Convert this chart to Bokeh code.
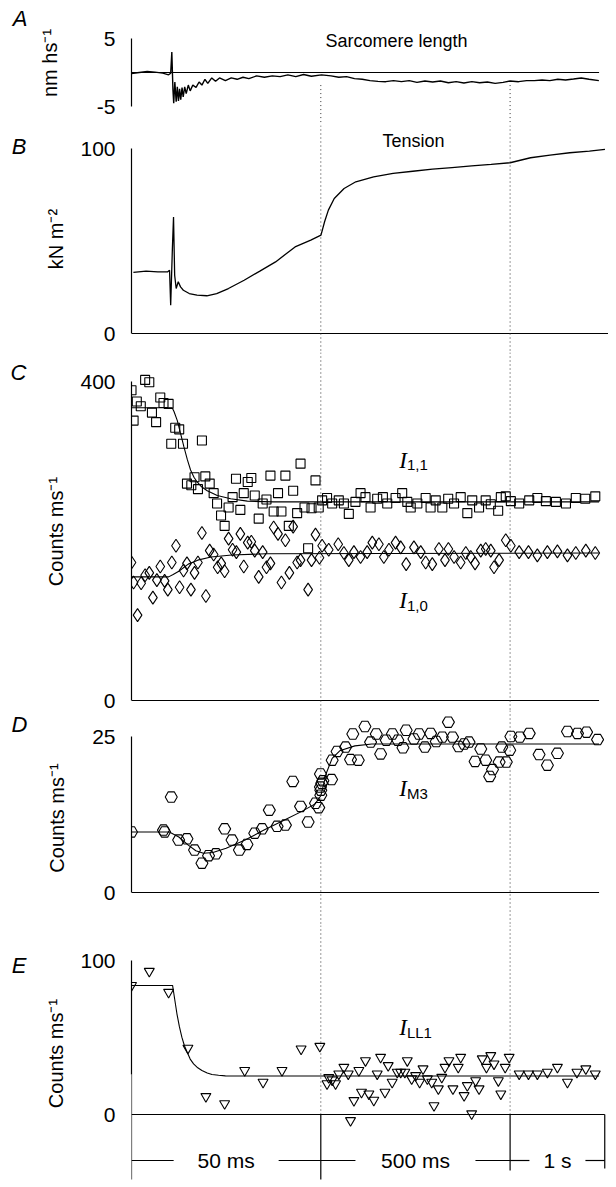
from bokeh.plotting import figure
from bokeh.layouts import column
from bokeh.models import Range1d, FixedTicker, Span, Label, LinearAxis
from bokeh.embed import file_html
from bokeh.resources import INLINE
from bokeh.core.properties import value

# ---------------- data (x = position on the broken time axis; 1 unit = one scale segment) -------------
seg_edges = [0.0, 1.0, 2.0, 2.5]          # 0, 50 ms, 550 ms, 1550 ms
seg_labels = ["50 ms", "500 ms", "1 s"]

slen_t = [0.0, 0.041, 0.083, 0.124, 0.165, 0.196, 0.207, 0.213, 0.219, 0.223, 0.229, 0.236, 0.242, 0.248,
          0.254, 0.26, 0.267, 0.273, 0.281, 0.289, 0.3, 0.31, 0.324, 0.341, 0.357, 0.372, 0.388, 0.403,
          0.424, 0.444, 0.465, 0.496, 0.527, 0.558, 0.589, 0.62, 0.661, 0.702, 0.744, 0.785, 0.826, 0.868,
          0.909, 0.95, 1.004, 1.054, 1.095, 1.136, 1.178, 1.219, 1.26, 1.302, 1.343, 1.384, 1.426, 1.467,
          1.508, 1.55, 1.591, 1.632, 1.674, 1.715, 1.756, 1.798, 1.839, 1.88, 1.921, 1.963, 2.0, 2.045,
          2.087, 2.128, 2.169, 2.21, 2.252, 2.293, 2.335, 2.376, 2.417, 2.469]
slen_v = [-0.15, 0.0, 0.15, 0.05, -0.1, -0.34, -0.1, 3.0, -2.6, -4.5, -1.4, -4.3, -2.1, -4.2,
          -2.4, -4.0, -2.2, -3.6, -2.1, -3.1, -1.85, -2.7, -1.85, -2.2, -1.4, -1.85, -1.0, -1.6,
          -0.8, -1.3, -0.8, -1.2, -0.8, -1.0, -0.7, -0.9, -0.5, -0.7, -0.5, -0.6, -0.35, -0.6,
          -0.3, -0.55, -0.35, -0.5, -0.7, -0.6, -0.9, -1.0, -1.2, -1.3, -1.35, -1.2, -1.35, -1.2,
          -1.45, -1.25, -1.4, -1.25, -1.5, -1.35, -1.55, -1.35, -1.5, -1.4, -1.6, -1.45, -1.25, -1.35,
          -1.2, -1.2, -1.1, -1.2, -1.0, -1.1, -0.95, -0.8, -1.0, -1.2]

tens_t = [0.01, 0.077, 0.139, 0.19, 0.201, 0.207, 0.216, 0.222, 0.228, 0.236, 0.247, 0.259, 0.274,
          0.305, 0.346, 0.398, 0.45, 0.512, 0.595, 0.678, 0.761, 0.864, 0.947, 1.001, 1.02, 1.04,
          1.071, 1.123, 1.185, 1.279, 1.382, 1.486, 1.59, 1.693, 1.797, 1.9, 2.0, 2.108, 2.211,
          2.315, 2.419, 2.501]
tens_v = [33.0, 33.7, 33.3, 33.3, 34.2, 15.3, 46.0, 63.0, 31.5, 24.3, 28.0, 25.2, 23.4,
          21.6, 20.7, 20.4, 21.6, 24.3, 28.8, 33.7, 38.7, 46.8, 50.5, 53.2, 60.4, 66.7,
          73.0, 78.4, 82.0, 84.7, 86.5, 87.7, 88.8, 89.7, 90.6, 91.4, 92.3, 95.0, 96.4,
          97.7, 98.6, 99.5]

i11_t = [0.0, 0.072, 0.094, 0.028, 0.049, 0.011, 0.108, 0.13, 0.152, 0.169, 0.196, 0.231, 0.252, 0.21,
         0.272, 0.372, 0.293, 0.316, 0.333, 0.351, 0.39, 0.413, 0.434, 0.452, 0.473, 0.492, 0.513,
         0.534, 0.552, 0.575, 0.593, 0.614, 0.633, 0.651, 0.672, 0.693, 0.713, 0.734, 0.751, 0.774,
         0.792, 0.813, 0.831, 0.854, 0.875, 0.893, 0.914, 0.933, 0.951, 0.972, 0.989,
         1.007, 1.033, 1.06, 1.095, 1.122, 1.148, 1.183, 1.21, 1.236, 1.263, 1.298, 1.328, 1.351,
         1.395, 1.43, 1.457, 1.475, 1.51, 1.554, 1.58, 1.607, 1.642, 1.673, 1.704, 1.739, 1.774,
         1.8, 1.836, 1.871, 1.898, 1.937, 1.951, 1.977, 2.004, 2.048, 2.101, 2.144, 2.189, 2.242,
         2.295, 2.347, 2.397, 2.45]
i11_v = [389, 402, 399, 375, 369, 351, 361, 349, 380, 373, 372, 342, 340, 322,
         322, 326, 272, 270, 280, 265, 281, 272, 260, 247, 232, 219, 242,
         255, 278, 239, 260, 274, 279, 257, 228, 247, 252, 282, 237, 260,
         237, 282, 219, 263, 235, 297, 242, 191, 241, 276, 242,
         251, 254, 247, 251, 247, 234, 249, 260, 255, 242, 253, 255, 247,
         254, 260, 249, 242, 247, 254, 242, 251, 242, 253, 247, 255, 235,
         251, 242, 251, 246, 238, 255, 256, 250, 247, 251, 254, 250, 249,
         247, 254, 253, 256]

i10_t = [0.0, 0.011, 0.032, 0.051, 0.072, 0.094, 0.113, 0.134, 0.152, 0.175, 0.192, 0.213, 0.235,
         0.254, 0.275, 0.293, 0.314, 0.333, 0.351, 0.372, 0.393, 0.413, 0.434, 0.455, 0.474, 0.492,
         0.513, 0.534, 0.554, 0.575, 0.593, 0.614, 0.633, 0.651, 0.672, 0.693, 0.713, 0.734, 0.751,
         0.774, 0.792, 0.813, 0.834, 0.854, 0.875, 0.893, 0.933, 0.951, 0.972, 0.993,
         1.007, 1.042, 1.092, 1.122, 1.148, 1.175, 1.21, 1.245, 1.272, 1.307, 1.333, 1.36, 1.395,
         1.422, 1.451, 1.492, 1.528, 1.554, 1.589, 1.624, 1.656, 1.674, 1.704, 1.739, 1.766,
         1.792, 1.815, 1.845, 1.871, 1.898, 1.915, 1.942, 1.977, 2.004, 2.048, 2.097, 2.144,
         2.197, 2.25, 2.303, 2.347, 2.4, 2.45]
i10_v = [173, 148, 107, 147, 157, 160, 129, 151, 168, 150, 139, 173, 194,
         142, 163, 172, 139, 160, 173, 210, 131, 188, 183, 167, 172, 162,
         203, 189, 186, 209, 168, 198, 199, 188, 155, 186, 167, 172, 217,
         209, 148, 201, 160, 218, 173, 176, 139, 176, 208, 179,
         194, 189, 196, 185, 176, 186, 180, 186, 198, 196, 180, 189, 198,
         192, 171, 192, 186, 173, 171, 190, 176, 190, 180, 173, 185,
         180, 172, 188, 190, 188, 167, 176, 201, 194, 186, 186, 182,
         186, 187, 182, 185, 188, 185]

i11_fit_t = [0.0, 0.215, 0.225, 0.242, 0.26, 0.277, 0.295, 0.312, 0.33, 0.347, 0.37, 0.4, 0.453,
             0.524, 0.612, 0.75, 2.47]
i11_fit_v = [367, 367, 362, 351, 334, 318, 302, 289, 280, 274, 268, 263, 257, 253, 250, 249, 249]
i10_fit_t = [0.0, 0.196, 0.22, 0.25, 0.3, 0.35, 0.42, 0.53, 0.71, 2.47]
i10_fit_v = [155, 155, 158, 162, 171, 176, 180, 182.5, 184, 185]

m3_t = [0.0, 0.169, 0.175, 0.21, 0.249, 0.293, 0.333, 0.372, 0.407, 0.446, 0.492, 0.531, 0.57, 0.61,
        0.651, 0.69, 0.728, 0.769, 0.813, 0.852, 0.893, 0.933, 0.972, 0.989, 0.998, 0.998, 1.0,
        1.0, 1.005, 1.011, 1.057,
        1.06, 1.086, 1.131, 1.157, 1.169, 1.198, 1.233, 1.263, 1.293, 1.316, 1.346, 1.378, 1.407,
        1.434, 1.451, 1.492, 1.519, 1.55, 1.58, 1.61, 1.642, 1.674, 1.696, 1.728, 1.757, 1.783,
        1.815, 1.845, 1.871, 1.892, 1.907, 1.942, 1.956, 1.98, 1.998, 2.004, 2.051, 2.101, 2.153,
        2.197, 2.25, 2.303, 2.356, 2.404, 2.462]
m3_v = [9.7, 10.0, 9.7, 15.3, 8.4, 8.6, 6.8, 4.7, 5.9, 6.2, 10.2, 8.4, 6.8, 7.7,
        9.5, 10.2, 13.2, 10.6, 10.8, 17.8, 13.8, 11.3, 14.3, 13.6, 19.0, 16.9, 15.6,
        16.4, 17.5, 17.9, 18.1,
        21.2, 22.6, 23.3, 21.3, 25.4, 21.2, 26.6, 24.1, 25.4, 22.2, 24.4, 25.4, 24.4,
        23.2, 26.0, 24.6, 25.4, 23.3, 25.5, 24.2, 24.9, 27.3, 24.9, 23.4, 23.8, 24.1,
        21.0, 23.0, 21.2, 18.6, 19.7, 20.9, 23.3, 20.9, 22.8, 25.0, 24.9, 25.5, 22.1,
        20.4, 22.3, 25.8, 25.5, 25.7, 24.5]
m3_fit_t = [0.0, 0.2, 0.25, 0.3, 0.34, 0.38, 0.43, 0.5, 0.6, 0.7, 0.8, 0.9, 0.97, 1.0, 1.03,
            1.06, 1.1, 1.18, 1.27, 2.47]
m3_fit_v = [9.7, 9.7, 8.9, 7.6, 6.7, 6.3, 6.4, 7.1, 8.4, 10.0, 11.5, 13.0, 14.2, 15.5, 19.2,
            21.5, 22.7, 23.5, 23.8, 23.8]

ll1_t = [0.0, 0.094, 0.196, 0.298, 0.393, 0.492, 0.598, 0.695, 0.795, 0.896, 0.995,
         1.033, 1.042, 1.06, 1.078, 1.095, 1.122, 1.145, 1.157, 1.175, 1.201, 1.215, 1.236, 1.254,
         1.28, 1.298, 1.316, 1.339, 1.356, 1.377, 1.404, 1.422, 1.444, 1.457, 1.48, 1.501, 1.522,
         1.54, 1.563, 1.586, 1.598, 1.621, 1.639, 1.656, 1.677, 1.698, 1.726, 1.739, 1.757, 1.774,
         1.797, 1.818, 1.836, 1.853, 1.875, 1.898, 1.915, 1.938, 1.951, 1.974, 1.995, 2.048,
         2.097, 2.144, 2.197, 2.25, 2.303, 2.353, 2.4, 2.45]
ll1_v = [83.8, 93.0, 79.4, 43.1, 11.7, 7.1, 28.6, 21.0, 28.6, 42.6, 44.3,
         20.0, 24.0, 22.5, 20.0, 26.4, 30.7, 26.4, -3.9, 9.1, 28.6, 14.5, 35.0, 13.4,
         9.3, 26.4, 37.2, 14.5, 31.8, 21.0, 27.5, 27.5, 27.5, 35.0, 23.2, 25.3, 21.0,
         29.7, 23.2, 21.0, 5.8, 16.7, 24.2, 30.7, 35.0, 16.7, 30.7, 37.2, 12.3, 18.8,
         0.5, 22.0, 16.7, 36.2, 30.7, 38.3, 32.9, 22.0, 13.4, 30.7, 37.2, 26.4,
         26.4, 26.4, 27.5, 30.7, 21.0, 27.5, 29.7, 26.4]
ll1_fit_t = [0.0, 0.217, 0.228, 0.24, 0.253, 0.266, 0.28, 0.293, 0.31, 0.328, 0.35, 0.372, 0.4,
             0.425, 0.46, 0.496, 0.55, 2.47]
ll1_fit_v = [83.8, 83.8, 75.0, 65.4, 57.0, 50.2, 44.5, 40.7, 36.0, 32.9, 30.3, 28.6, 27.0,
             26.0, 25.5, 25.1, 25.0, 25.0]

# ---------------- styling / layout (page pixels) -------------
FONT = "Liberation Sans"
SERIF = "Liberation Serif"
LEFT = 131
W = 608
PX_PER_U = 189.3
X_END = (W - LEFT) / PX_PER_U
DOT = dict(line_color="#333333", line_width=1, line_dash="1 3")


def panel(top, bottom, hi, y_hi, lo, y_lo, ticks, ylabel, label_standoff, bounds=None):
    s = (y_lo - y_hi) / (hi - lo)
    yr = Range1d(lo - (bottom - y_lo) / s, hi + (y_hi - top) / s)
    p = figure(width=W, height=bottom - top, x_range=Range1d(0, X_END), y_range=yr,
               output_backend="svg", toolbar_location=None, x_axis_location=None,
               min_border_left=LEFT, min_border_right=0, min_border_top=0, min_border_bottom=0)
    p.grid.visible = False
    p.outline_line_color = None
    ax = p.yaxis[0]
    ax.ticker = FixedTicker(ticks=ticks)
    ax.major_label_overrides = {t: str(t) for t in ticks}
    ax.bounds = bounds if bounds else (lo, hi)
    ax.major_tick_out = 0
    ax.major_tick_in = 0
    ax.minor_tick_out = 0
    ax.minor_tick_in = 0
    ax.axis_line_color = "black"
    ax.axis_line_width = 1.2
    ax.major_label_text_font = FONT
    ax.major_label_text_font_size = "21px"
    ax.major_label_text_color = "black"
    ax.major_label_standoff = 16
    ax.axis_label = ylabel
    ax.axis_label_text_font = FONT
    ax.axis_label_text_font_size = "20px"
    ax.axis_label_text_font_style = "normal"
    ax.axis_label_text_color = "black"
    ax.axis_label_standoff = label_standoff
    return p, s


def letter(p, text, yval, standoff):
    # the panel letter is drawn as the single tick label of an extra, line-less left axis
    ax = LinearAxis(ticker=FixedTicker(ticks=[yval]), major_label_overrides={yval: text},
                    axis_line_color=None, major_tick_line_color=None, minor_tick_line_color=None,
                    major_label_text_font=FONT, major_label_text_font_size="22px",
                    major_label_text_font_style="italic", major_label_text_color="black",
                    major_label_standoff=standoff)
    p.add_layout(ax, "left")


def ilabel(p, s, x, yb, main, sub):
    p.add_layout(Label(x=x, y=yb, text=main, text_font=SERIF, text_font_size="23px",
                       text_font_style="italic", text_align="right", text_baseline="alphabetic",
                       text_color="black"))
    p.add_layout(Label(x=x, y=yb - 5 / s, text=sub, text_font=FONT, text_font_size="15px",
                       text_align="left", text_baseline="alphabetic", text_color="black"))


# ---- A: sarcomere length
pA, sA = panel(0, 125, 5, 38, -5, 106, [-5, 5], "nm hs\u207b\u00b9", 33)
pA.line(x=[0, 2.47], y=[0, 0], line_color="black", line_width=1.2)
pA.line(x=slen_t, y=slen_v, line_color="black", line_width=1.4)
pA.segment(x0=seg_edges[1:3], y0=[-1.85, -1.85], x1=seg_edges[1:3],
           y1=[pA.y_range.start] * 2, **DOT)
pA.add_layout(Label(x=1.40, y=4.7, text="Sarcomere length", text_font=FONT, text_font_size="18px",
                    text_align="center", text_baseline="middle", text_color="black"))
letter(pA, "A", 8, 2)

# ---- B: tension
pB, sB = panel(125, 352, 100, 148, 0, 333, [0, 100], "kN m\u207b\u00b2", 10)
for xe in seg_edges[1:3]:
    pB.add_layout(Span(location=xe, dimension="height", **DOT))
pB.line(x=[0, 2.52], y=[0, 0], line_color="black", line_width=1.2)
pB.line(x=tens_t, y=tens_v, line_color="black", line_width=1.3)
pB.add_layout(Label(x=1.49, y=104.3, text="Tension", text_font=FONT, text_font_size="18px",
                    text_align="center", text_baseline="middle", text_color="black"))
letter(pB, "B", 101, 10)

# ---- C: equatorial reflections
pC, sC = panel(352, 710, 400, 381, 0, 700, [0, 400], "Counts ms\u207b\u00b9", 10)
for xe in seg_edges[1:3]:
    pC.add_layout(Span(location=xe, dimension="height", **DOT))
pC.line(x=[0, 2.47], y=[0, 0], line_color="black", line_width=1.2)
pC.scatter(x=i11_t, y=i11_v, marker="square", size=9, fill_alpha=0, line_color="black", line_width=1.1)
pC.scatter(x=i10_t, y=i10_v, marker="diamond", size=13, fill_alpha=0, line_color="black", line_width=1.1)
pC.line(x=i11_fit_t, y=i11_fit_v, line_color="black", line_width=1.1)
pC.line(x=i10_fit_t, y=i10_fit_v, line_color="black", line_width=1.1)
ilabel(pC, sC, 1.455, 301, "I", "1,1")
ilabel(pC, sC, 1.455, 125, "I", "1,0")
letter(pC, "C", 411, 10)

# ---- D: M3
pD, sD = panel(710, 925, 25, 736, 0, 892, [0, 25], "Counts ms\u207b\u00b9", 21)
for xe in seg_edges[1:3]:
    pD.add_layout(Span(location=xe, dimension="height", **DOT))
pD.line(x=[0, 2.47], y=[0, 0], line_color="black", line_width=1.2)
pD.scatter(x=m3_t, y=m3_v, marker="hex", size=12, fill_alpha=0, line_color="black", line_width=1.1)
pD.line(x=m3_fit_t, y=m3_fit_v, line_color="black", line_width=1.1)
ilabel(pD, sD, 1.455, 16.7, "I", "M3")
letter(pD, "D", 27, 10)

# ---- E: LL1 + time scale (axis line below 26 is continued by the time-zero tick of the scale bar)
E_AXIS_LOW = 26
pE, sE = panel(925, 1181, 100, 960, 0, 1114, [0, 100], "Counts ms\u207b\u00b9", 10,
               bounds=(E_AXIS_LOW, 100))
pE.segment(x0=seg_edges[1:3], y0=[pE.y_range.end] * 2, x1=seg_edges[1:3], y1=[0, 0], **DOT)
pE.line(x=[0, seg_edges[-1]], y=[0, 0], line_color="black", line_width=1.2)
pE.scatter(x=ll1_t, y=ll1_v, marker="inverted_triangle", size=10, fill_alpha=0, line_color="black",
           line_width=1.1)
pE.line(x=ll1_fit_t, y=ll1_fit_v, line_color="black", line_width=1.1)
ilabel(pE, sE, 1.455, 56.5, "I", "LL1")
letter(pE, "E", 97, 10)

# time scale bar
bar_y = -(1160 - 1114) / sE
tick_top = [E_AXIS_LOW, 0, 0, 0]
tick_low = [-(1179 - 1114) / sE, -(1179 - 1114) / sE, -(1170 - 1114) / sE, -(1168 - 1114) / sE]
pE.segment(x0=seg_edges, y0=tick_top, x1=seg_edges, y1=tick_low, line_color="black", line_width=1.2)
half_gap = [52.5, 60.0, 28.0]     # pixels from segment centre to bar start
bx0, bx1 = [], []
lx = []
for i, lab in enumerate(seg_labels):
    a, b = seg_edges[i], seg_edges[i + 1]
    mid = (a + b) / 2
    lx.append(mid)
    g = half_gap[i] / PX_PER_U
    bx0 += [a, mid + g]
    bx1 += [mid - g, b]
pE.segment(x0=bx0, y0=[bar_y] * len(bx0), x1=bx1, y1=[bar_y] * len(bx0), line_color="black", line_width=1.2)
pE.text(x=lx, y=[bar_y] * 3, text=seg_labels, text_font=value(FONT), text_font_size="21px",
        text_align="center", text_baseline="middle", text_color="black")

layout = column(pA, pB, pC, pD, pE, spacing=0)
open("out.html", "w").write(file_html(layout, INLINE))
